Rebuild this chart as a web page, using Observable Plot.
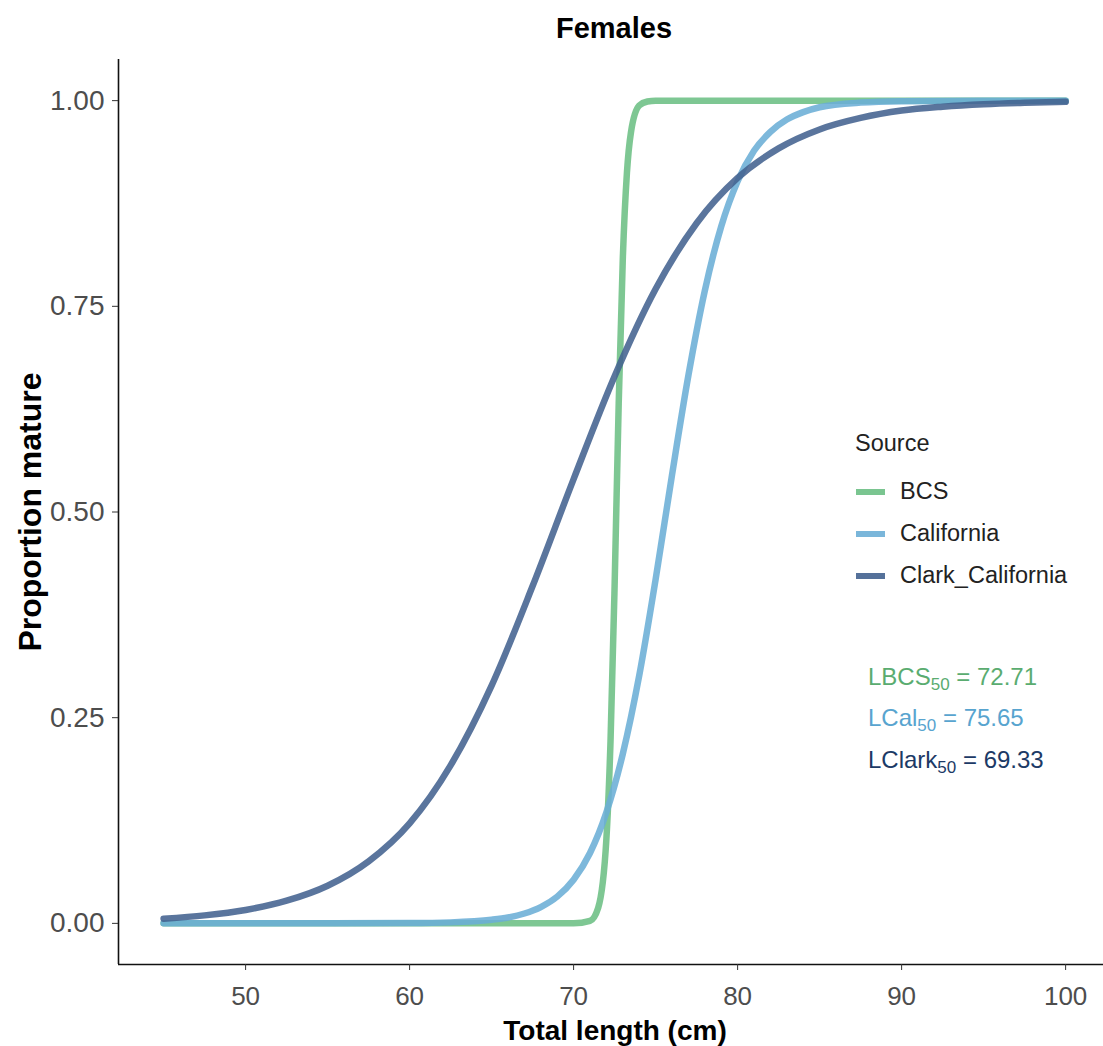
<!DOCTYPE html>
<html>
<head>
<meta charset="utf-8">
<script src="https://cdn.jsdelivr.net/npm/d3@7"></script>
<script src="https://cdn.jsdelivr.net/npm/@observablehq/plot@0.6"></script>
<style>
  html, body { margin: 0; padding: 0; background: #fff; }
  #wrap { position: relative; width: 1103px; height: 1046px; font-family: "Liberation Sans", Arial, sans-serif; }
  .lg { position: absolute; white-space: nowrap; line-height: 1; }
  .key { position: absolute; width: 29px; height: 6px; }
  .ann { position: absolute; white-space: nowrap; line-height: 1; font-size: 24px; }
  .ann sub { font-size: 17px; vertical-align: -5px; line-height: 0; }
</style>
</head>
<body>
<div id="wrap"></div>
<script>
// ---- data ----
const sources = ["BCS", "California", "Clark_California"];
const colors = ["#6cbf84", "#6baed6", "#43628f"];

const bcsX = [45, 50, 55, 60, 65, 70, 71, 71.5, 72, 72.25, 72.5, 72.75, 73, 73.25, 73.5, 74, 74.5, 75, 80, 85, 90, 95, 100];
const bcsY = [0, 0, 0, 0, 0, 0, 0.003, 0.019, 0.103, 0.221, 0.41, 0.632, 0.808, 0.912, 0.962, 0.994, 0.999, 1, 1, 1, 1, 1, 1];

const calX = [45, 50, 55, 60, 62.5, 65, 66, 67, 68, 69, 70, 71, 72, 73, 74, 75, 76, 77, 78, 79, 80, 81, 82, 83, 84, 85, 87.5, 90, 95, 100];
const calY = [0, 0, 0, 0.0003, 0.0012, 0.0044, 0.0072, 0.012, 0.0198, 0.0325, 0.053, 0.0855, 0.135, 0.206, 0.301, 0.418, 0.545, 0.666, 0.769, 0.847, 0.902, 0.939, 0.962, 0.977, 0.986, 0.992, 0.9976, 0.9993, 1, 1];

const clarkX = [45, 47.5, 50, 52.5, 55, 57.5, 60, 62.5, 65, 67.5, 70, 72.5, 75, 77.5, 80, 82.5, 85, 87.5, 90, 92.5, 95, 97.5, 100];
const clarkY = [0.0057, 0.0097, 0.0163, 0.0275, 0.0457, 0.0753, 0.1215, 0.192, 0.289, 0.41, 0.54, 0.665, 0.771, 0.851, 0.906, 0.942, 0.965, 0.979, 0.988, 0.9927, 0.9957, 0.9975, 0.9985];

const xTicks = [50, 60, 70, 80, 90, 100];
const yTicks = [0, 0.25, 0.5, 0.75, 1];

const annotations = [
  {pre: "LBCS", value: "72.71", color: "#5aac70"},
  {pre: "LCal", value: "75.65", color: "#58a4cf"},
  {pre: "LClark", value: "69.33", color: "#1c3a66"}
];

// ---- build table ----
const rows = [];
bcsX.forEach((x, i) => rows.push({source: sources[0], x, y: bcsY[i]}));
calX.forEach((x, i) => rows.push({source: sources[1], x, y: calY[i]}));
clarkX.forEach((x, i) => rows.push({source: sources[2], x, y: clarkY[i]}));

const FONT = '"Liberation Sans", Arial, sans-serif';
const xDom = [42.25, 102.31];
const yDom = [-0.05, 1.05];

const chart = Plot.plot({
  width: 1103,
  height: 1046,
  marginLeft: 118,
  marginRight: 0,
  marginTop: 59,
  marginBottom: 82,
  style: {fontFamily: FONT, background: "#fff", overflow: "visible"},
  x: {domain: xDom},
  y: {domain: yDom},
  color: {domain: sources, range: colors},
  marks: [
    Plot.line(rows, {x: "x", y: "y", z: "source", stroke: "source", strokeWidth: 6.5, strokeOpacity: 0.88, curve: "monotone-x"}),
    Plot.ruleX([xDom[0]], {stroke: "#111", strokeWidth: 1.6}),
    Plot.ruleY([yDom[0]], {stroke: "#111", strokeWidth: 1.6}),
    Plot.axisX(xTicks, {tickSize: 6, tickPadding: 16, fontSize: 26, color: "#4d4d4d", label: null, stroke: "#333"}),
    Plot.axisY(yTicks, {tickSize: 6, tickPadding: 8, fontSize: 28, color: "#4d4d4d", label: null, stroke: "#333", tickFormat: d3.format(".2f")}),
    Plot.text(["Females"], {frameAnchor: "top", lineAnchor: "middle", textAnchor: "middle", dy: -31, dx: 3, fontSize: 29, fontWeight: "bold", fill: "#000"}),
    Plot.text(["Total length (cm)"], {frameAnchor: "bottom", lineAnchor: "middle", textAnchor: "middle", dy: 67, dx: 4, fontSize: 28, fontWeight: "bold", fill: "#000"}),
    Plot.text(["Proportion mature"], {frameAnchor: "left", lineAnchor: "middle", textAnchor: "middle", dx: -88, rotate: -90, fontSize: 32, fontWeight: "bold", fill: "#000"})
  ]
});

const wrap = document.getElementById("wrap");
wrap.appendChild(chart);

// ---- legend ----
function addDiv(cls, css, html) {
  const d = document.createElement("div");
  d.className = cls;
  Object.assign(d.style, css);
  d.innerHTML = html;
  wrap.appendChild(d);
  return d;
}
addDiv("lg", {left: "855px", top: "432px", fontSize: "23.5px", color: "#222"}, "Source");
const itemCenters = [492, 534, 576];
sources.forEach((s, i) => {
  addDiv("key", {left: "856px", top: (itemCenters[i] - 3) + "px", background: colors[i], opacity: 0.9}, "");
  addDiv("lg", {left: "900px", top: (itemCenters[i] - 12) + "px", fontSize: "23.5px", color: "#222"}, s);
});

// ---- L50 annotations ----
const annCenters = [677, 718, 760];
annotations.forEach((a, i) => {
  addDiv("ann", {left: "868px", top: (annCenters[i] - 12) + "px", color: a.color}, a.pre + "<sub>50</sub> = " + a.value);
});
</script>
</body>
</html>
